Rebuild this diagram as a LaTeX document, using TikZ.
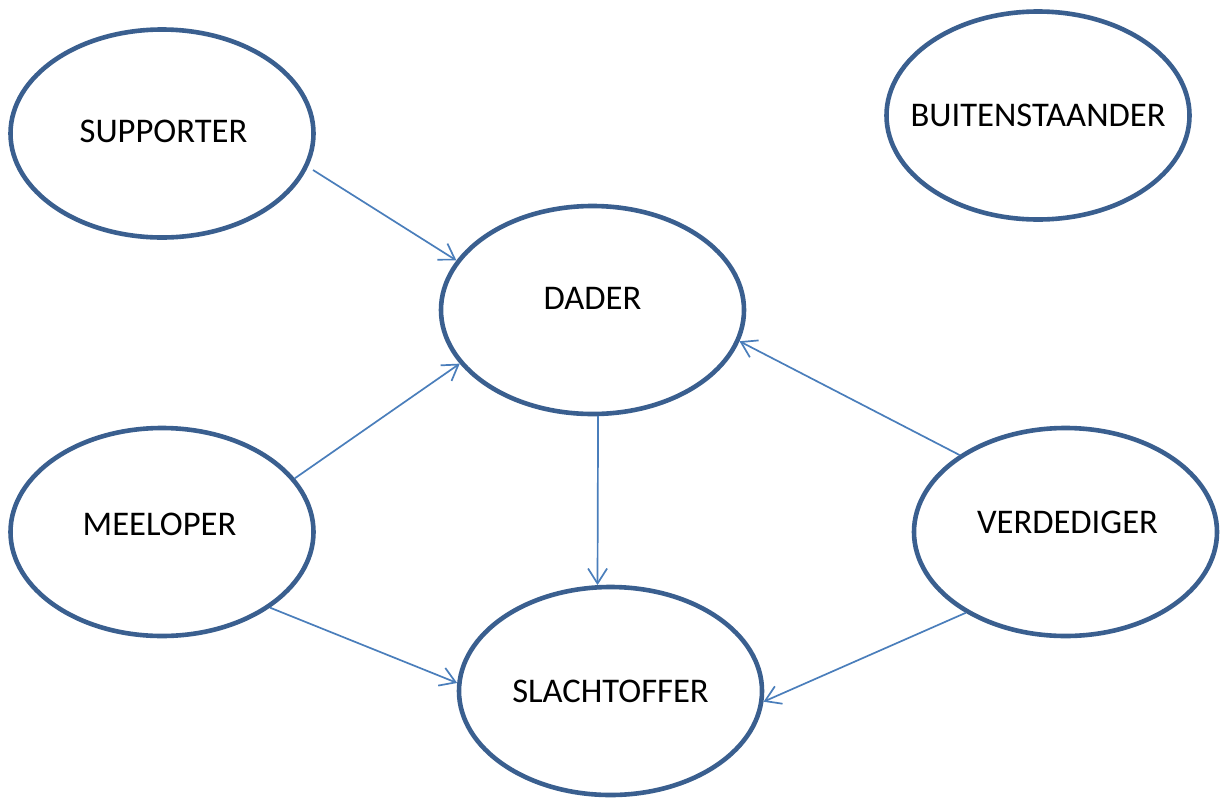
\documentclass[tikz,border=0pt]{standalone}
\usepackage{fontspec}
\setmainfont{Carlito}
\usetikzlibrary{shapes.geometric,arrows.meta}
\definecolor{ellblue}{HTML}{3A5F8F}
\definecolor{arrblue}{HTML}{4A7EBB}
\begin{document}
\begin{tikzpicture}[x=0.5pt,y=-0.5pt,
  role/.style={ellipse,draw=ellblue,line width=2.3pt,fill=white,inner sep=0pt,
    minimum width=151.5pt,minimum height=104pt},
  lbl/.style={font=\fontsize{17.3}{20}\selectfont,text=black,inner sep=0pt},
  arr/.style={draw=arrblue,line width=0.85pt,-{Straight Barb[length=7.5pt,width=9.5pt]}}]
\useasboundingbox (0,0) rectangle (1220,798);
\node[role,label={[lbl,yshift=1pt,xshift=0.75pt]center:SUPPORTER}] (sup) at (162,133.5) {};
\node[role,label={[lbl]center:BUITENSTAANDER}] (bui) at (1038,115.5) {};
\node[role,label={[lbl,yshift=6pt]center:DADER}] (dad) at (592.5,310) {};
\node[role,label={[lbl,yshift=4pt,xshift=-1.25pt]center:MEELOPER}] (mee) at (162,532) {};
\node[role,label={[lbl,yshift=5pt,xshift=1pt]center:VERDEDIGER}] (ver) at (1065.5,532) {};
\node[role,label={[lbl]center:SLACHTOFFER}] (sla) at (610.5,691) {};
\draw[arr] ([shift={(151,36.5)}]sup.center) -- (dad.160.1);
\draw[arr] (mee.22.6) -- (dad.202.6);
\draw[arr] (dad.-87.5) -- (sla.97.3);
\draw[arr] (ver.144) -- (dad.-12.6);
\draw[arr] (mee.-35.3) -- (sla.177);
\draw[arr] (ver.219.1) -- (sla.-4.5);
\end{tikzpicture}
\end{document}
